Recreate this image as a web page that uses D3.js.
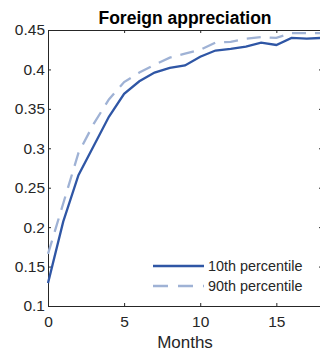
<!DOCTYPE html>
<html>
<head>
<meta charset="utf-8">
<script src="https://cdn.jsdelivr.net/npm/d3@7"></script>
<style>
  html, body { margin: 0; padding: 0; background: #fff; }
  text { font-family: "Liberation Sans", Arial, sans-serif; fill: #262626; }
</style>
</head>
<body>
<svg id="chart"></svg>
<script>
'use strict';

const months = d3.range(0, 19);
const p10 = [0.129, 0.207, 0.266, 0.303, 0.340, 0.369, 0.385, 0.396, 0.402, 0.405,
             0.416, 0.424, 0.426, 0.429, 0.434, 0.431, 0.440, 0.439, 0.440];
const p90 = [0.166, 0.230, 0.294, 0.331, 0.362, 0.384, 0.396, 0.406, 0.415, 0.420,
             0.425, 0.434, 0.435, 0.439, 0.441, 0.440, 0.446, 0.446, 0.446];
const xTicks = [0, 5, 10, 15];
const yTicks = [0.1, 0.15, 0.2, 0.25, 0.3, 0.35, 0.4, 0.45];

const W = 320, H = 353;
const margin = { top: 30, right: -2, bottom: 47, left: 48 };
const w = W - margin.left - margin.right;
const h = H - margin.top - margin.bottom;

const svg = d3.select('#chart')
    .attr('width', W)
    .attr('height', H);

const g = svg.append('g')
    .attr('transform', `translate(${margin.left}, ${margin.top})`);

const x = d3.scaleLinear().domain([0, 18]).range([0, w]);
const y = d3.scaleLinear().domain([0.1, 0.45]).range([h, 0]);

const fmt = d => String(d);

// bottom / left axes with inward ticks
g.append('g')
    .attr('transform', `translate(0, ${h})`)
    .call(d3.axisBottom(x).tickValues(xTicks).tickFormat(fmt).tickSizeInner(-3).tickSizeOuter(0).tickPadding(10));

g.append('g')
    .call(d3.axisLeft(y).tickValues(yTicks).tickFormat(fmt).tickSizeInner(-3).tickSizeOuter(0).tickPadding(3));

// top / right mirrored ticks
g.append('g')
    .call(d3.axisTop(x).tickValues(xTicks).tickFormat('').tickSizeInner(-3).tickSizeOuter(0));

g.append('g')
    .attr('transform', `translate(${w}, 0)`)
    .call(d3.axisRight(y).tickValues(yTicks).tickFormat('').tickSizeInner(-3).tickSizeOuter(0));

g.selectAll('.domain, .tick line').attr('stroke', '#262626').attr('stroke-width', 1);
g.selectAll('.tick text').style('font-size', '15.5px').attr('fill', '#262626');

const line = d3.line()
    .x((d, i) => x(months[i]))
    .y(d => y(d));

g.append('path')
    .datum(p90)
    .attr('fill', 'none')
    .attr('stroke', '#9fb2d5')
    .attr('stroke-width', 2.3)
    .attr('stroke-dasharray', '14,9')
    .attr('d', line);

g.append('path')
    .datum(p10)
    .attr('fill', 'none')
    .attr('stroke', '#2f56a5')
    .attr('stroke-width', 2.3)
    .attr('d', line);

// legend
const legend = [
  { label: '10th percentile', color: '#2f56a5', dash: null },
  { label: '90th percentile', color: '#9fb2d5', dash: '15,10' }
];
const lg = svg.append('g');
legend.forEach((d, i) => {
  const ly = 266 + i * 20;
  lg.append('line')
      .attr('x1', 153).attr('x2', 204)
      .attr('y1', ly).attr('y2', ly)
      .attr('stroke', d.color)
      .attr('stroke-width', 2.3)
      .attr('stroke-dasharray', d.dash);
  lg.append('text')
      .attr('x', 208).attr('y', ly + 5)
      .style('font-size', '14.4px')
      .text(d.label);
});

svg.append('text')
    .attr('x', margin.left + w / 2)
    .attr('y', 24)
    .attr('text-anchor', 'middle')
    .style('font-size', '17.5px')
    .style('font-weight', 'bold')
    .style('fill', '#000')
    .text('Foreign appreciation');

svg.append('text')
    .attr('x', margin.left + w / 2)
    .attr('y', 348)
    .attr('text-anchor', 'middle')
    .style('font-size', '17px')
    .text('Months');
</script>
</body>
</html>
